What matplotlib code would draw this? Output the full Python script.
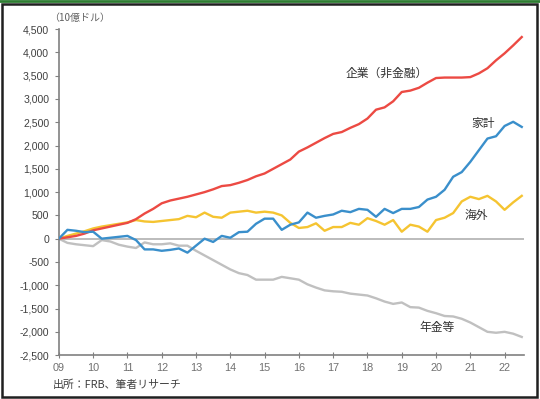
import numpy as np
import matplotlib
matplotlib.use('Agg')
import matplotlib.pyplot as plt

plt.rcParams['font.family'] = ['Liberation Sans', 'Noto Sans CJK JP']

# quarterly, 2009Q1 - 2022Q3 (cumulative, 10億ドル)
quarters = 2009 + np.arange(55) / 4.0

corp = [0, 30, 60, 110, 180, 220, 260, 300, 340, 420, 540, 640, 760, 820,
        860, 900, 950, 1000, 1060, 1130, 1150, 1200, 1260, 1340, 1400, 1500,
        1600, 1700, 1870, 1960, 2060, 2160, 2250, 2290, 2380, 2460, 2580,
        2770, 2820, 2950, 3150, 3180, 3240, 3350, 3450, 3460, 3460, 3460,
        3470, 3550, 3660, 3830, 3980, 4150, 4330]

household = [0, 190, 170, 140, 150, 0, 20, 40, 60, -30, -230, -230, -260,
             -240, -210, -300, -150, 0, -70, 60, 20, 140, 150, 320, 430, 430,
             190, 300, 350, 560, 450, 490, 520, 600, 570, 640, 620, 470, 640,
             550, 640, 640, 680, 840, 900, 1050, 1330, 1430, 1650, 1900, 2150,
             2200, 2420, 2510, 2400]

overseas = [0, 60, 110, 160, 220, 260, 290, 320, 350, 400, 370, 360, 380,
            400, 420, 490, 460, 560, 470, 450, 560, 580, 600, 560, 580, 560,
            500, 340, 230, 250, 330, 170, 250, 250, 340, 300, 440, 380, 300,
            400, 150, 300, 260, 150, 400, 450, 550, 800, 900, 850, 920, 800,
            620, 780, 920]

pension = [0, -90, -120, -140, -160, -30, -60, -130, -170, -200, -80, -120,
           -120, -100, -150, -150, -260, -360, -460, -560, -660, -740, -780,
           -880, -880, -880, -820, -850, -880, -980, -1050, -1110, -1130,
           -1140, -1180, -1200, -1220, -1280, -1350, -1400, -1370, -1470,
           -1480, -1550, -1600, -1660, -1670, -1720, -1800, -1900, -2000,
           -2020, -2000, -2040, -2110]

yticks = np.arange(-2500, 4501, 500)
xyears = np.arange(2009, 2023)

fig = plt.figure(figsize=(5.4, 3.99), dpi=100)
ax = fig.add_axes([0.109, 0.110, 0.861, 0.817])

ax.axhline(0, color='#b0b0b0', lw=1.2, zorder=1)
ax.plot(quarters, corp, color='#ec4a43', lw=1.7, zorder=3)
ax.plot(quarters, household, color='#3a8fcb', lw=1.7, zorder=3)
ax.plot(quarters, overseas, color='#f5c431', lw=1.7, zorder=2)
ax.plot(quarters, pension, color='#c0c0c0', lw=1.7, zorder=2)

ax.set_xlim(2009, 2022.56)
ax.set_ylim(-2500, 4500)
ax.set_yticks(yticks)
ax.set_yticklabels(['{:,}'.format(v) for v in yticks], fontsize=7.6, color='#404040')
ax.set_xticks(xyears)
ax.set_xticklabels(['%02d' % (y % 100) for y in xyears], fontsize=7.8, color='#707070')

for s in ['top', 'right']:
    ax.spines[s].set_visible(False)
for s in ['left', 'bottom']:
    ax.spines[s].set_color('#808080')
    ax.spines[s].set_linewidth(1.2)
ax.tick_params(axis='y', direction='out', length=3, color='#808080', pad=4)
ax.tick_params(axis='x', direction='inout', length=5, color='#808080', pad=3)

cjk = ['Noto Sans CJK JP', 'DejaVu Sans']
ax.text(2018.56, 3550, '企業（非金融）', fontsize=8.5, family=cjk, color='#333333', ha='center', va='center')
ax.text(2021.38, 2470, '家計', fontsize=8.5, family=cjk, color='#333333', ha='center', va='center')
ax.text(2021.16, 490, '海外', fontsize=8.5, family=cjk, color='#333333', ha='center', va='center')
ax.text(2020.02, -1910, '年金等', fontsize=8.5, family=cjk, color='#333333', ha='center', va='center')

fig.text(0.147, 0.955, '（10億ドル）', fontsize=7.2, family=cjk, color='#606060', ha='center', va='center')
fig.text(0.097, 0.036, '出所：FRB、筆者リサーチ', fontsize=7.8, family=cjk, color='#404040', ha='left', va='center')

# frame around the picture
fig.add_artist(plt.Rectangle((0.003, 0.006), 0.991, 0.985, transform=fig.transFigure,
                             fill=False, edgecolor='#202020', lw=1.8))
fig.add_artist(plt.Line2D([0, 1], [0.997, 0.997], transform=fig.transFigure,
                          color='#2e7d32', lw=2.0))

fig.savefig('out.png', dpi=100)
